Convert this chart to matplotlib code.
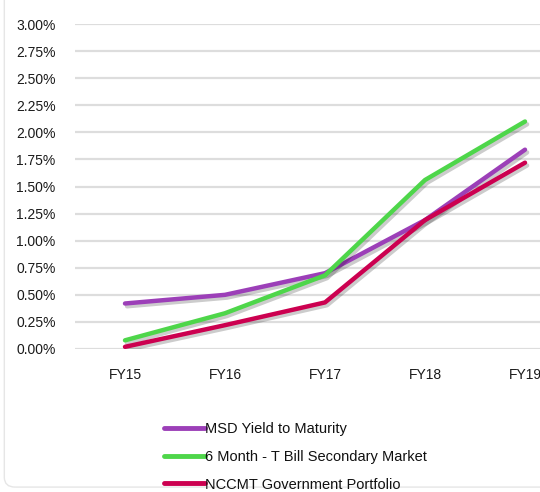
import matplotlib
matplotlib.use("Agg")
import matplotlib.pyplot as plt
import matplotlib.patheffects as pe
from matplotlib.patches import FancyBboxPatch
from matplotlib.ticker import FuncFormatter

years = ["FY15", "FY16", "FY17", "FY18", "FY19"]
msd_ytm = [0.42, 0.50, 0.70, 1.19, 1.84]
tbill_6m = [0.08, 0.33, 0.68, 1.56, 2.10]
nccmt_gov = [0.02, 0.22, 0.43, 1.19, 1.72]

series = [
    ("MSD Yield to Maturity", msd_ytm, "#9c3fb8"),
    ("6 Month - T Bill Secondary Market", tbill_6m, "#4ed64a"),
    ("NCCMT Government Portfolio", nccmt_gov, "#cc0050"),
]

plt.rcParams['font.family'] = ['Liberation Sans', 'DejaVu Sans']

fig = plt.figure(figsize=(5.4, 4.92), dpi=100)
# faint card border
fig.patches.append(FancyBboxPatch((0.008, 0.01), 1.2, 1.2, boxstyle="round,pad=0,rounding_size=0.02",
                                  transform=fig.transFigure, facecolor="none",
                                  edgecolor="#e6e6e6", linewidth=1.0, zorder=-1))

ax = fig.add_axes([75 / 540, 1 - 349 / 492, 500 / 540, 325 / 492])
ax.set_facecolor("none")

x = list(range(len(years)))
shadow = [pe.SimpleLineShadow(offset=(1.5, -2), shadow_color="black", alpha=0.2), pe.Normal()]
handles = []
for label, vals, color in series:
    line, = ax.plot(x, vals, color=color, linewidth=3.2, solid_capstyle="round",
                    label=label, path_effects=shadow, zorder=3)
    handles.append(line)

ax.set_xlim(-0.5, 4.5)
ax.set_ylim(0, 3.0)
ax.set_yticks([i * 0.25 for i in range(13)])
ax.yaxis.set_major_formatter(FuncFormatter(lambda v, p: f"{v:.2f}%"))
ax.set_xticks(x)
ax.set_xticklabels(years)
ax.grid(axis="y", color="#dddddd", linewidth=1.6)
ax.set_axisbelow(True)
for s in ax.spines.values():
    s.set_visible(False)
ax.tick_params(axis="both", length=0, labelsize=10, colors="#1a1a1a")
ax.tick_params(axis="y", pad=14)
ax.tick_params(axis="x", pad=14)

leg = fig.legend(handles=handles, labels=[s[0] for s in series],
                 loc="upper left", bbox_to_anchor=(158 / 540, 1 - 416 / 492),
                 frameon=False, fontsize=10.5, handlelength=2.8, handletextpad=0.0,
                 labelspacing=0.95, borderaxespad=0)
for h in leg.get_lines():
    h.set_linewidth(3.5)
    h.set_path_effects([])
for t in leg.get_texts():
    t.set_color("#111111")

fig.savefig("out.png", dpi=100)
